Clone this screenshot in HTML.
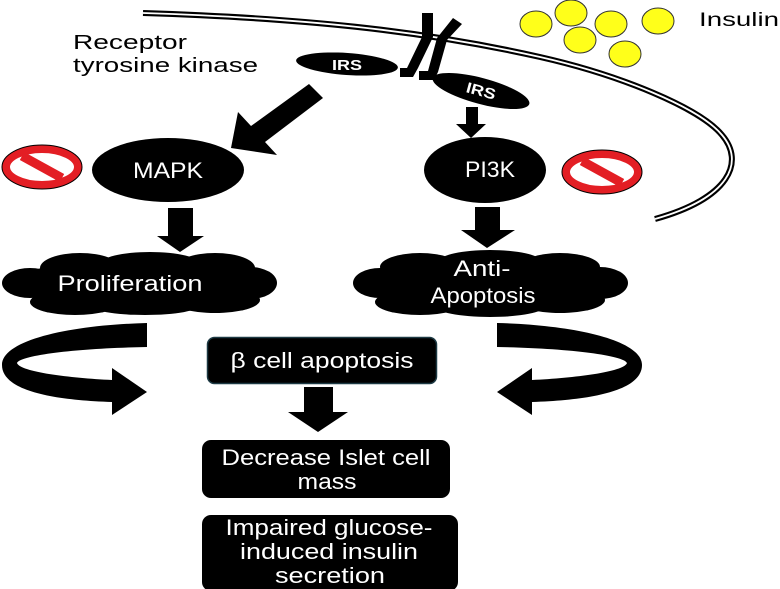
<!DOCTYPE html>
<html><head><meta charset="utf-8"><style>
html,body{margin:0;padding:0;background:#fff;}
svg{display:block;}
text{font-family:"Liberation Sans",sans-serif;}
.w{fill:#fff;font-size:22px;text-anchor:middle;}
</style></head><body>
<svg width="780" height="589" viewBox="0 0 780 589" xmlns="http://www.w3.org/2000/svg">
<!-- membrane -->
<path d="M143,13 C 300,18 420,30 540,57 C 620,75 700,108 722,135 C 745,162 730,198 655,219" fill="none" stroke="#000" stroke-width="6"/>
<path d="M143,13 C 300,18 420,30 540,57 C 620,75 700,108 722,135 C 745,162 730,198 655,219" fill="none" stroke="#fff" stroke-width="1.8"/>
<!-- receptor -->
<path d="M422,13 L433,13 L433,37 L418,68 L413,77 L400,77 L400,68 L407,68 L422,37 Z" fill="#000"/>
<path d="M453,18 L462,24 L447,40 L438,72 L434,80 L419,80 L419,71 L428,71 L437,38 Z" fill="#000"/>
<!-- insulin -->
<g fill="#ffff1a" stroke="#333" stroke-width="1">
<ellipse cx="536" cy="24" rx="16" ry="13"/>
<ellipse cx="571" cy="13" rx="16" ry="13"/>
<ellipse cx="611" cy="24" rx="16" ry="13"/>
<ellipse cx="658" cy="21" rx="16" ry="13"/>
<ellipse cx="580" cy="40" rx="16" ry="13"/>
<ellipse cx="625" cy="54" rx="16" ry="13"/>
</g>
<text x="699" y="26" font-size="19" textLength="80" lengthAdjust="spacingAndGlyphs">Insulin</text>
<text x="73" y="49" font-size="20" textLength="114" lengthAdjust="spacingAndGlyphs">Receptor</text>
<text x="73" y="72" font-size="20" textLength="185" lengthAdjust="spacingAndGlyphs">tyrosine kinase</text>
<!-- IRS -->
<ellipse cx="347" cy="64" rx="51" ry="11" transform="rotate(4 347 64)" fill="#000"/>
<text x="347" y="70" fill="#fff" font-size="15" font-weight="bold" text-anchor="middle" textLength="30" lengthAdjust="spacingAndGlyphs">IRS</text>
<ellipse cx="481" cy="91" rx="50" ry="13" transform="rotate(15 481 91)" fill="#000"/>
<text x="481" y="96" fill="#fff" font-size="15" font-weight="bold" text-anchor="middle" transform="rotate(15 481 91)" textLength="30" lengthAdjust="spacingAndGlyphs">IRS</text>
<!-- arrows top -->
<path d="M309,84 L323,98 L265,142 L277,155 L231,148 L238,112 L251,126 Z" fill="#000"/>
<path d="M466,107 L478,107 L478,124 L486,124 L471,138 L456,124 L466,124 Z" fill="#000"/>
<!-- MAPK / PI3K -->
<ellipse cx="168" cy="170" rx="76" ry="32" fill="#000"/>
<text class="w" x="168" y="178" textLength="70" lengthAdjust="spacingAndGlyphs">MAPK</text>
<ellipse cx="485" cy="170" rx="61" ry="33" fill="#000"/>
<text class="w" x="490" y="177" textLength="50" lengthAdjust="spacingAndGlyphs">PI3K</text>
<!-- no signs -->
<g>
<ellipse cx="42" cy="167" rx="36" ry="18" fill="#fff" stroke="#e31e24" stroke-width="8"/>
<ellipse cx="42" cy="167" rx="40" ry="22" fill="none" stroke="#000" stroke-width="1"/>
<line x1="22" y1="156" x2="62" y2="178" stroke="#e31e24" stroke-width="9"/>
</g>
<g>
<ellipse cx="602" cy="172" rx="36" ry="18" fill="#fff" stroke="#e31e24" stroke-width="8"/>
<ellipse cx="602" cy="172" rx="40" ry="22" fill="none" stroke="#000" stroke-width="1"/>
<line x1="582" y1="161" x2="622" y2="183" stroke="#e31e24" stroke-width="9"/>
</g>
<!-- down arrows -->
<path d="M168,208 L193,208 L193,236 L204,236 L180,252 L157,236 L168,236 Z" fill="#000"/>
<path d="M475,207 L500,207 L500,230 L515,230 L487,248 L461,230 L475,230 Z" fill="#000"/>
<!-- clouds -->
<g fill="#000">
<ellipse cx="140" cy="284" rx="125" ry="26"/>
<ellipse cx="30" cy="283" rx="28" ry="15"/>
<ellipse cx="250" cy="283" rx="27" ry="16"/>
<ellipse cx="80" cy="268" rx="40" ry="15"/>
<ellipse cx="150" cy="264" rx="50" ry="12"/>
<ellipse cx="215" cy="268" rx="40" ry="15"/>
<ellipse cx="75" cy="302" rx="45" ry="13"/>
<ellipse cx="145" cy="305" rx="55" ry="10"/>
<ellipse cx="215" cy="300" rx="45" ry="13"/>
</g>
<text class="w" x="130" y="291" textLength="145" lengthAdjust="spacingAndGlyphs">Proliferation</text>
<g fill="#000">
<ellipse cx="490" cy="284" rx="120" ry="26"/>
<ellipse cx="380" cy="283" rx="27" ry="15"/>
<ellipse cx="600" cy="283" rx="28" ry="16"/>
<ellipse cx="420" cy="267" rx="40" ry="14"/>
<ellipse cx="490" cy="261" rx="50" ry="11"/>
<ellipse cx="560" cy="267" rx="40" ry="14"/>
<ellipse cx="420" cy="302" rx="45" ry="13"/>
<ellipse cx="490" cy="306" rx="55" ry="11"/>
<ellipse cx="560" cy="300" rx="45" ry="13"/>
</g>
<text class="w" x="482" y="276" textLength="57" lengthAdjust="spacingAndGlyphs">Anti-</text>
<text class="w" x="483" y="303" textLength="105" lengthAdjust="spacingAndGlyphs">Apoptosis</text>
<!-- curved arrows -->
<path d="M147,323 L147,347 C 80,348 20,355 17,363 C 20,372 70,378 112,380 L112,368 L147,392 L112,415 L112,402 C 50,400 2,390 2,365 C 2,340 70,325 147,323 Z" fill="#000"/>
<path d="M147,323 L147,347 C 80,348 20,355 17,363 C 20,372 70,378 112,380 L112,368 L147,392 L112,415 L112,402 C 50,400 2,390 2,365 C 2,340 70,325 147,323 Z" fill="#000" transform="translate(644,0) scale(-1,1)"/>
<!-- boxes -->
<rect x="207.5" y="337.5" width="229" height="46" rx="7" fill="#000" stroke="#1d3a44" stroke-width="1.5"/>
<text class="w" x="322" y="368" textLength="183" lengthAdjust="spacingAndGlyphs">β cell apoptosis</text>
<path d="M304,387 L333,387 L333,412 L348,412 L318,432 L288,412 L304,412 Z" fill="#000"/>
<rect x="202" y="440" width="248" height="58" rx="9" fill="#000"/>
<text class="w" x="326" y="465" textLength="209" lengthAdjust="spacingAndGlyphs">Decrease Islet cell</text>
<text class="w" x="327" y="489" textLength="59" lengthAdjust="spacingAndGlyphs">mass</text>
<rect x="202" y="515" width="256" height="76" rx="9" fill="#000"/>
<text class="w" x="329" y="535" textLength="207" lengthAdjust="spacingAndGlyphs">Impaired glucose-</text>
<text class="w" x="329" y="559" textLength="178" lengthAdjust="spacingAndGlyphs">induced insulin</text>
<text class="w" x="330" y="583" textLength="110" lengthAdjust="spacingAndGlyphs">secretion</text>
</svg>
</body></html>
